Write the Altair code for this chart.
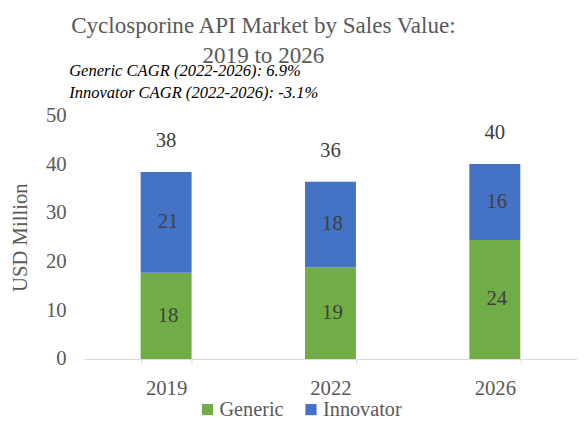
import altair as alt
import pandas as pd

years = ["2019", "2022", "2026"]
series = ["Generic", "Innovator"]
generic = [17.7, 18.8, 24.4]
innovator = [20.7, 17.6, 15.6]
colors = ["#70AD47", "#4472C4"]
title_lines = ["Cyclosporine API Market by Sales Value:", "2019 to 2026"]
cagr_lines = ["Generic CAGR (2022-2026): 6.9%", "Innovator CAGR (2022-2026): -3.1%"]
y_ticks = [0, 10, 20, 30, 40, 50]
y_title = "USD Million"

FONT = "Liberation Serif"

rows = []
for i, yr in enumerate(years):
    rows.append({"year": yr, "series": series[0], "value": generic[i], "ord": 0})
    rows.append({"year": yr, "series": series[1], "value": innovator[i], "ord": 1})
df = pd.DataFrame(rows)
totals = pd.DataFrame({"year": years, "total": [g + n for g, n in zip(generic, innovator)]})

x_enc = alt.X(
    "year:N",
    sort=years,
    scale=alt.Scale(paddingInner=0.69, paddingOuter=0.345),
    axis=alt.Axis(
        title=None, labelAngle=0, domainColor="#D9D9D9", tickColor="#D9D9D9",
        tickBand="extent", tickSize=5, labelFont=FONT, labelFontSize=21,
        labelColor="#595959", labelPadding=14, domainWidth=1,
    ),
)
y_scale = alt.Scale(domain=[0, 50], nice=False)

bars = alt.Chart(df).mark_bar().encode(
    x=x_enc,
    y=alt.Y(
        "value:Q", stack="zero", scale=y_scale,
        axis=alt.Axis(
            values=y_ticks, grid=False, domain=False, ticks=False,
            labelFont=FONT, labelFontSize=21, labelColor="#595959", labelPadding=18,
            title=y_title, titleFont=FONT, titleFontSize=21, titleFontWeight="normal",
            titleColor="#595959", titlePadding=15,
        ),
    ),
    color=alt.Color(
        "series:N",
        scale=alt.Scale(domain=series, range=colors),
        legend=alt.Legend(
            title=None, orient="none", direction="horizontal", legendX=115, legendY=288,
            symbolType="square", symbolSize=128, symbolStrokeWidth=0,
            labelFont=FONT, labelFontSize=20.5, labelColor="#595959",
            labelOffset=2, columnPadding=17, padding=0,
        ),
    ),
    order=alt.Order("ord:Q", sort="ascending"),
)

seg_labels = (
    alt.Chart(df)
    .transform_stack(stack="value", groupby=["year"], as_=["v0", "v1"],
                     sort=[alt.SortField("ord", order="ascending")])
    .transform_calculate(mid="(datum.v0 + datum.v1) / 2")
    .mark_text(font=FONT, fontSize=21, color="#404040", baseline="middle", dx=2)
    .encode(x=alt.X("year:N", sort=years), y=alt.Y("mid:Q", scale=y_scale),
            text=alt.Text("value:Q", format=".0f"))
)

tot_labels = (
    alt.Chart(totals)
    .mark_text(font=FONT, fontSize=21, color="#404040", baseline="alphabetic", dy=-25)
    .encode(x=alt.X("year:N", sort=years), y=alt.Y("total:Q", scale=y_scale),
            text=alt.Text("total:Q", format=".0f"))
)

cagr_layers = []
for i, line in enumerate(cagr_lines):
    cagr_layers.append(
        alt.Chart(pd.DataFrame({"t": [line]}))
        .mark_text(font=FONT, fontSize=16.8, fontStyle="italic", color="#000000",
                   align="left", baseline="alphabetic")
        .encode(text="t:N", x=alt.value(-15), y=alt.value(-40 + 22.7 * i))
    )

chart = (
    alt.layer(bars, seg_labels, tot_labels, *cagr_layers)
    .properties(
        width=500, height=247,
        padding={"left": 77, "top": 106, "right": 0, "bottom": 58},
        autosize=alt.AutoSizeParams(type="none"),
        title=alt.TitleParams(
            text=title_lines, font=FONT, fontSize=23.4, fontWeight="normal",
            color="#595959", anchor="middle", frame="group", dx=-68,
            lineHeight=30, offset=-5,
        ),
    )
    .configure_view(stroke=None)
)

chart.save("out.html", embed_options={"renderer": "svg", "actions": False})
